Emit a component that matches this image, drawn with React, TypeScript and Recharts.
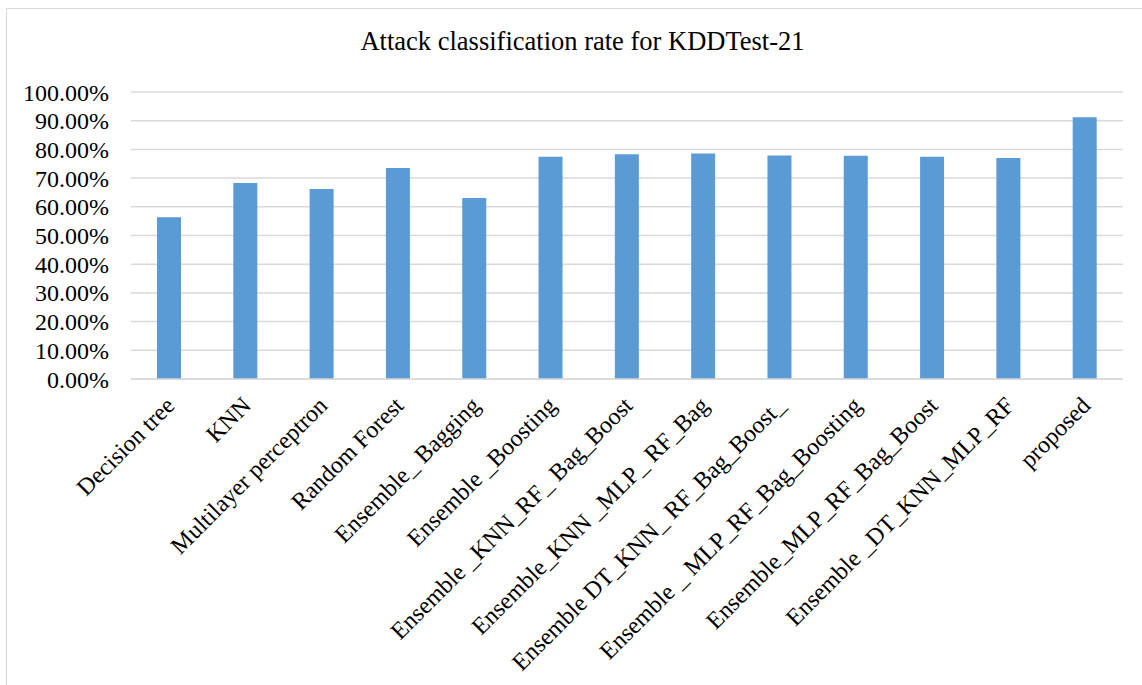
import React from "react";
import { Bar, BarChart, CartesianGrid, XAxis, YAxis } from "recharts";

const models = [
  "Decision tree",
  "KNN",
  "Multilayer perceptron",
  "Random Forest",
  "Ensemble_ Bagging",
  "Ensemble _Boosting",
  "Ensemble _KNN_RF_ Bag_Boost",
  "Ensemble_KNN _MLP_ RF_Bag",
  "Ensemble DT_KNN_ RF_Bag_Boost_",
  "Ensemble _ MLP_RF_Bag_Boosting",
  "Ensemble_MLP_RF_Bag_Boost",
  "Ensemble _DT_KNN_MLP_RF",
  "proposed",
];

// attack classification rate, percent
const rates = [56.4, 68.3, 66.2, 73.5, 63.1, 77.4, 78.3, 78.6, 77.9, 77.8, 77.4, 77.0, 91.2];

const yTicks = [0, 10, 20, 30, 40, 50, 60, 70, 80, 90, 100];

const data = models.map((name, i) => ({ name, rate: rates[i] }));

const font = "'Liberation Serif', 'Times New Roman', serif";

function AngledTick({ x, y, payload }: any) {
  return (
    <g transform={`translate(${x + 7},${y + 20})`}>
      <text
        textAnchor="end"
        transform="rotate(-45)"
        fontSize={24}
        style={{ fontFamily: font }}
        fill="#000"
      >
        {payload.value}
      </text>
    </g>
  );
}

export default function App() {
  return (
    <div
      style={{
        position: "absolute",
        left: 0,
        top: 0,
        width: 1142,
        height: 685,
        overflow: "hidden",
        background: "#fff",
        fontFamily: font,
      }}
    >
      <div
        style={{
          position: "absolute",
          left: 6,
          top: 8,
          width: 1200,
          height: 800,
          border: "1px solid #D9D9D9",
        }}
      />
      <div
        style={{
          position: "absolute",
          left: 0,
          top: 26,
          width: 1165,
          textAlign: "center",
          fontSize: 26.5,
          color: "#000",
        }}
      >
        Attack classification rate for KDDTest-21
      </div>
      <div style={{ position: "absolute", left: 0, top: 0 }}>
        <BarChart
          width={1142}
          height={685}
          data={data}
          margin={{ top: 92, right: 19, bottom: 0, left: 0 }}
          barSize={24}
        >
          <CartesianGrid stroke="#D9D9D9" strokeWidth={1.5} vertical={false} />
          <XAxis
            dataKey="name"
            interval={0}
            height={306}
            axisLine={{ stroke: "#D9D9D9", strokeWidth: 1.5 }}
            tickLine={false}
            tick={<AngledTick />}
          />
          <YAxis
            width={131}
            domain={[0, 100]}
            ticks={yTicks}
            interval={0}
            axisLine={false}
            tickLine={false}
            tickSize={0}
            tickMargin={22}
            tickFormatter={(v) => `${Number(v).toFixed(2)}%`}
            tick={{ fontSize: 24, fill: "#000", style: { fontFamily: font } }}
          />
          <Bar dataKey="rate" fill="#5B9BD5" isAnimationActive={false} />
        </BarChart>
      </div>
    </div>
  );
}
